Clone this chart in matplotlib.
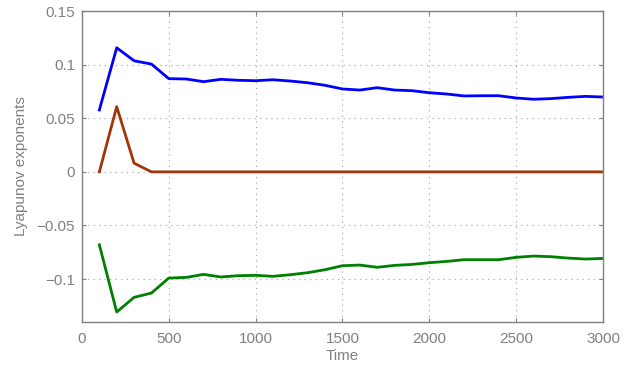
import matplotlib
matplotlib.use("Agg")
import matplotlib.pyplot as plt
from matplotlib.ticker import FuncFormatter

time = [100 * i for i in range(1, 31)]
lyap1 = [0.0577, 0.1157, 0.1036, 0.1005, 0.0869, 0.0866, 0.0841, 0.0863, 0.0854, 0.0850,
         0.0859, 0.0847, 0.0831, 0.0807, 0.0773, 0.0763, 0.0785, 0.0763, 0.0757, 0.0738,
         0.0726, 0.0708, 0.0710, 0.0710, 0.0689, 0.0677, 0.0683, 0.0695, 0.0704, 0.0698]
lyap2 = [0.0, 0.0608, 0.0081, 0.0, 0.0, 0.0, 0.0, 0.0, 0.0, 0.0,
         0.0, 0.0, 0.0, 0.0, 0.0, 0.0, 0.0, 0.0, 0.0, 0.0,
         0.0, 0.0, 0.0, 0.0, 0.0, 0.0, 0.0, 0.0, 0.0, 0.0]
lyap3 = [-0.0680, -0.1307, -0.1170, -0.1130, -0.0990, -0.0984, -0.0956, -0.0980, -0.0968, -0.0965,
         -0.0974, -0.0959, -0.0940, -0.0912, -0.0875, -0.0869, -0.0890, -0.0872, -0.0863, -0.0847,
         -0.0835, -0.0819, -0.0819, -0.0819, -0.0797, -0.0785, -0.0791, -0.0804, -0.0813, -0.0807]
xticks = [0, 500, 1000, 1500, 2000, 2500, 3000]
yticks = [-0.1, -0.05, 0, 0.05, 0.1, 0.15]

plt.rcParams['font.family'] = ['Liberation Sans', 'DejaVu Sans']
gray = '#808080'
fig = plt.figure(figsize=(6.38, 3.67), dpi=100)
ax = fig.add_axes([0.1285, 0.1226, 0.8166, 0.8474])
ax.plot(time, lyap1, color='#0000FF', lw=2)
ax.plot(time, lyap2, color='#A0350A', lw=2)
ax.plot(time, lyap3, color='#008000', lw=2)
ax.set_xlim(0, 3000)
ax.set_ylim(-0.14, 0.15)
ax.set_xticks(xticks)
ax.set_yticks(yticks)

def fmt(v, pos):
    s = '%g' % round(v, 4)
    return s.replace('-', '\u2212')

ax.yaxis.set_major_formatter(FuncFormatter(fmt))
ax.xaxis.set_major_formatter(FuncFormatter(fmt))
ax.grid(True, linestyle=(0, (1, 4)), color='#a0a0a0', lw=0.8)
for sp in ax.spines.values():
    sp.set_color(gray)
    sp.set_linewidth(1.0)
ax.tick_params(direction='in', top=True, right=True, colors=gray, labelcolor=gray,
               labelsize=11, length=3)
ax.tick_params(axis='x', pad=7)
ax.tick_params(axis='y', pad=5)
ax.set_xlabel('Time', color=gray, fontsize=11, labelpad=2)
ax.set_ylabel('Lyapunov exponents', color=gray, fontsize=11, labelpad=6)
fig.savefig('out.png', dpi=100)
